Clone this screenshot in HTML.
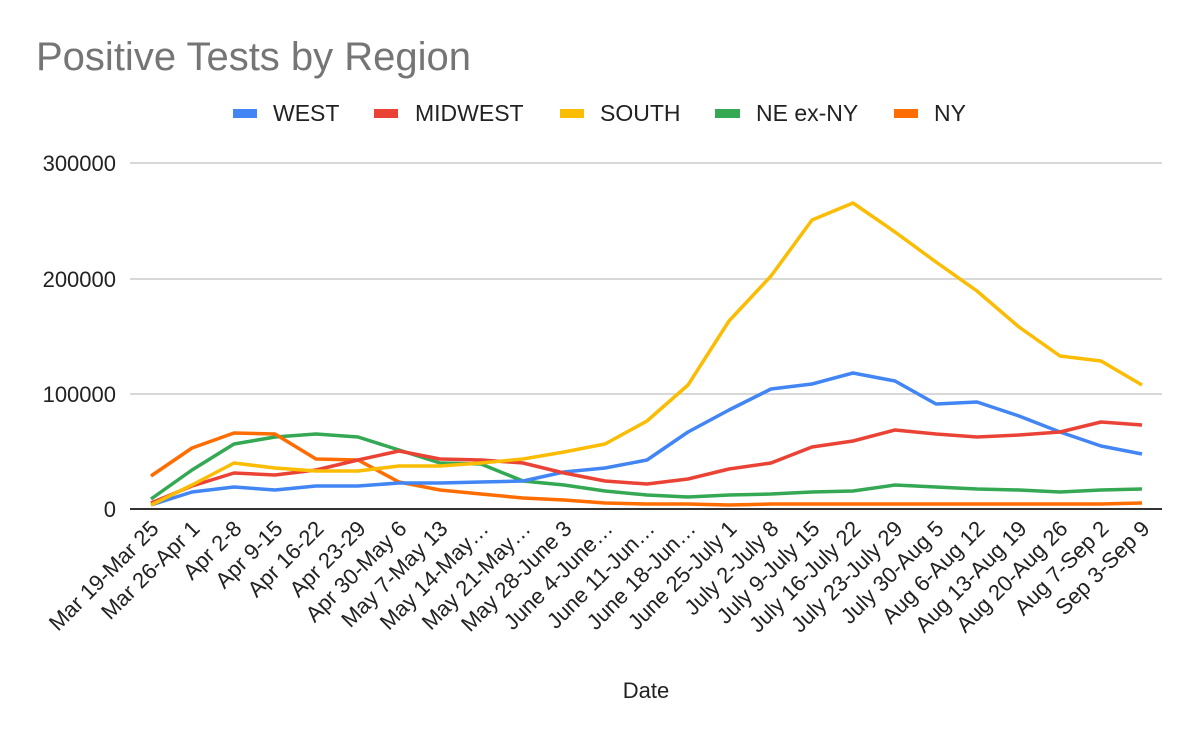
<!DOCTYPE html>
<html><head><meta charset="utf-8"><style>body{margin:0;background:#fff}svg{display:block}text{font-family:"Liberation Sans",Arial,sans-serif}</style></head>
<body>
<svg width="1200" height="742" viewBox="0 0 1200 742">
<text x="36" y="70" font-size="40" fill="#757575">Positive Tests by Region</text>
<g font-size="23" fill="#222">
<rect x="233" y="109" width="24" height="9" fill="#4285f4"/><text x="273" y="121">WEST</text>
<rect x="374" y="109" width="24" height="9" fill="#ea4335"/><text x="415" y="121">MIDWEST</text>
<rect x="560" y="109" width="24" height="9" fill="#fbbc04"/><text x="600" y="121">SOUTH</text>
<rect x="715" y="109" width="25" height="9" fill="#34a853"/><text x="756" y="121">NE ex-NY</text>
<rect x="894" y="109" width="24" height="9" fill="#ff6d01"/><text x="934" y="121">NY</text>
</g>
<g stroke="#ccc" stroke-width="1.5">
<line x1="130" y1="163" x2="1162" y2="163"/><line x1="130" y1="279" x2="1162" y2="279"/><line x1="130" y1="394" x2="1162" y2="394"/>
</g>
<g font-size="22" fill="#222" text-anchor="end">
<text x="116" y="171">300000</text><text x="116" y="287">200000</text><text x="116" y="402">100000</text><text x="116" y="517">0</text>
</g>
<g fill="none" stroke-width="3.5" stroke-linejoin="round">
<polyline stroke="#34a853" points="151,499 192,470 234,444 275,437 316,434 358,437 399,450 440,463 481,464 523,481 564,485 605,491 647,495 688,497 729,495 771,494 812,492 853,491 895,485 936,487 977,489 1019,490 1060,492 1101,490 1142,489"/>
<polyline stroke="#ff6d01" points="151,476 192,448 234,433 275,434 316,459 358,460 399,482 440,490 481,494 523,498 564,500 605,503 647,504 688,504 729,505 771,504 812,504 853,504 895,504 936,504 977,504 1019,504 1060,504 1101,504 1142,503"/>
<polyline stroke="#4285f4" points="151,505 192,492 234,487 275,490 316,486 358,486 399,483 440,483 481,482 523,481 564,472 605,468 647,460 688,432 729,410 771,389 812,384 853,373 895,381 936,404 977,402 1019,416 1060,432 1101,446 1142,454"/>
<polyline stroke="#ea4335" points="151,503 192,486 234,473 275,475 316,470 358,460 399,451 440,459 481,460 523,463 564,473 605,481 647,484 688,479 729,469 771,463 812,447 853,441 895,430 936,434 977,437 1019,435 1060,432 1101,422 1142,425"/>
<polyline stroke="#fbbc04" points="151,505 192,485 234,463 275,468 316,471 358,471 399,466 440,466 481,463 523,459 564,452 605,444 647,421 688,385 729,321 771,276 812,220 853,203 895,232 936,262 977,291 1019,327 1060,356 1101,361 1142,385"/>
</g>
<line x1="130" y1="509" x2="1162" y2="509" stroke="#333" stroke-width="2"/>
<g font-size="22" fill="#222" text-anchor="end">
<text transform="translate(160,530) rotate(-45)">Mar 19-Mar 25</text>
<text transform="translate(201,530) rotate(-45)">Mar 26-Apr 1</text>
<text transform="translate(243,530) rotate(-45)">Apr 2-8</text>
<text transform="translate(284,530) rotate(-45)">Apr 9-15</text>
<text transform="translate(325,530) rotate(-45)">Apr 16-22</text>
<text transform="translate(367,530) rotate(-45)">Apr 23-29</text>
<text transform="translate(408,530) rotate(-45)">Apr 30-May 6</text>
<text transform="translate(449,530) rotate(-45)">May 7-May 13</text>
<text transform="translate(490,530) rotate(-45)">May 14-May…</text>
<text transform="translate(532,530) rotate(-45)">May 21-May…</text>
<text transform="translate(573,530) rotate(-45)">May 28-June 3</text>
<text transform="translate(614,530) rotate(-45)">June 4-June…</text>
<text transform="translate(656,530) rotate(-45)">June 11-Jun…</text>
<text transform="translate(697,530) rotate(-45)">June 18-Jun…</text>
<text transform="translate(738,530) rotate(-45)">June 25-July 1</text>
<text transform="translate(780,530) rotate(-45)">July 2-July 8</text>
<text transform="translate(821,530) rotate(-45)">July 9-July 15</text>
<text transform="translate(862,530) rotate(-45)">July 16-July 22</text>
<text transform="translate(904,530) rotate(-45)">July 23-July 29</text>
<text transform="translate(945,530) rotate(-45)">July 30-Aug 5</text>
<text transform="translate(986,530) rotate(-45)">Aug 6-Aug 12</text>
<text transform="translate(1028,530) rotate(-45)">Aug 13-Aug 19</text>
<text transform="translate(1069,530) rotate(-45)">Aug 20-Aug 26</text>
<text transform="translate(1110,530) rotate(-45)">Aug 7-Sep 2</text>
<text transform="translate(1151,530) rotate(-45)">Sep 3-Sep 9</text>
</g>
<text x="646" y="698" font-size="22" fill="#222" text-anchor="middle">Date</text>
</svg>
</body></html>
